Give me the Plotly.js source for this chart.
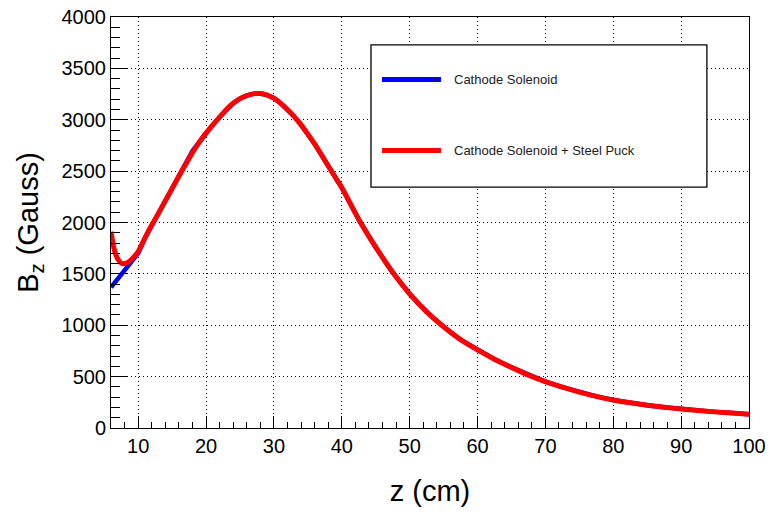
<!DOCTYPE html>
<html>
<head>
<meta charset="utf-8">
<script src="https://cdn.plot.ly/plotly-3.0.1.min.js"></script>
<style>
  html, body { margin: 0; padding: 0; background: #fff; }
  #chart { width: 769px; height: 518px; }
</style>
</head>
<body>
<div id="chart"></div>
<script>
// z positions (cm)
var zRed = [6, 6.5, 7, 7.5, 8, 8.5, 9, 9.5, 10, 11, 12, 13, 14, 15, 16, 17, 18, 19, 20,
            21, 22, 23, 24, 25, 26, 27, 28, 29, 30, 31, 32, 33, 34, 35, 36, 37, 38, 39, 40,
            42.5, 45, 47.5, 50, 52.5, 55, 57.5, 60, 62.5, 65, 67.5, 70, 72.5, 75, 77.5, 80,
            82.5, 85, 87.5, 90, 92.5, 95, 97.5, 100];
// Cathode Solenoid + Steel Puck (Gauss)
var bzRed = [1910, 1730, 1645, 1605, 1600, 1612, 1640, 1675, 1716, 1850, 1975, 2090, 2210, 2330, 2450, 2565, 2680, 2780, 2870,
             2950, 3025, 3100, 3160, 3205, 3235, 3252, 3255, 3240, 3210, 3160, 3100, 3030, 2950, 2860, 2765, 2660, 2550, 2445, 2340,
             2030, 1760, 1515, 1305, 1130, 985, 860, 760, 670, 590, 515, 452, 398, 350, 308, 273,
             245, 222, 202, 185, 170, 157, 145, 133];

var zBlue = [6, 6.5, 7, 7.5, 8, 8.5, 9, 9.5, 10, 11, 12, 13, 14, 15, 16, 17, 18, 19, 20,
             21, 22, 23, 24, 25, 26, 27, 28, 29, 30, 31, 32, 33, 34, 35, 36, 37, 38, 39, 40,
             42.5, 45, 47.5, 50, 52.5, 55, 57.5, 60, 62.5, 65, 67.5, 70, 72.5, 75, 77.5, 80,
             82.5, 85, 87.5, 90, 92.5, 95, 97.5, 100];
// Cathode Solenoid (Gauss)
var bzBlue = [1370, 1410, 1450, 1490, 1530, 1570, 1612, 1655, 1700, 1845, 1975, 2090, 2210, 2330, 2452, 2578, 2695, 2782, 2870,
              2950, 3025, 3100, 3160, 3205, 3235, 3252, 3255, 3240, 3210, 3160, 3100, 3030, 2950, 2860, 2765, 2660, 2550, 2445, 2340,
              2030, 1760, 1515, 1305, 1130, 985, 860, 760, 670, 590, 515, 452, 398, 350, 308, 273,
              245, 222, 202, 185, 170, 157, 145, 133];

var seriesNames = ["Cathode Solenoid", "Cathode Solenoid + Steel Puck"];
var seriesColors = ["#0000ff", "#ff0000"];

var FONT = "Liberation Sans, Arial, Helvetica, sans-serif";

var traces = [
  { x: zBlue, y: bzBlue, type: "scatter", mode: "lines", name: seriesNames[0],
    line: { color: seriesColors[0], width: 4.5 }, showlegend: false, hoverinfo: "x+y" },
  { x: zRed, y: bzRed, type: "scatter", mode: "lines", name: seriesNames[1],
    line: { color: seriesColors[1], width: 5, shape: "spline", smoothing: 0.6 }, showlegend: false, hoverinfo: "x+y" }
];

// legend box geometry (paper coordinates)
var lg = { x0: 0.4075, x1: 0.934, y0: 0.586, y1: 0.932 };
var rowY = [0.848, 0.675];

var shapes = [
  { type: "rect", xref: "paper", yref: "paper", x0: lg.x0, x1: lg.x1, y0: lg.y0, y1: lg.y1,
    line: { color: "#000", width: 1.3 }, fillcolor: "#fff", layer: "above" }
];
var annotations = [];
for (var i = 0; i < seriesNames.length; i++) {
  shapes.push({ type: "line", xref: "paper", yref: "paper", x0: 0.4248, x1: 0.5172, y0: rowY[i], y1: rowY[i],
                line: { color: seriesColors[i], width: 5 }, layer: "above" });
  annotations.push({ xref: "paper", yref: "paper", x: 0.5345, y: rowY[i], xanchor: "left", yanchor: "middle",
                     text: seriesNames[i], showarrow: false, font: { family: FONT, size: 13, color: "#222" } });
}

var layout = {
  width: 769, height: 518,
  margin: { l: 111, r: 20, t: 17, b: 90 },
  paper_bgcolor: "#fff", plot_bgcolor: "#fff",
  font: { family: FONT, color: "#000" },
  showlegend: false,
  xaxis: {
    range: [6, 100], tick0: 0, dtick: 10,
    ticks: "inside", ticklen: 12, tickcolor: "#000", tickwidth: 1,
    minor: { tick0: 0, dtick: 2, ticks: "inside", ticklen: 6, tickcolor: "#000", tickwidth: 1, showgrid: false },
    showgrid: true, gridcolor: "#000", gridwidth: 1, griddash: "1px,3px",
    zeroline: false, showline: true, linecolor: "#000", linewidth: 1, mirror: true,
    tickfont: { family: FONT, size: 20, color: "#000" },
    title: { text: "z (cm)", font: { family: FONT, size: 29, color: "#000" }, standoff: 24 },
    automargin: false
  },
  yaxis: {
    range: [0, 4000], tick0: 0, dtick: 500,
    ticks: "inside", ticklen: 16, tickcolor: "#000", tickwidth: 1,
    minor: { tick0: 0, dtick: 100, ticks: "inside", ticklen: 9, tickcolor: "#000", tickwidth: 1, showgrid: false },
    showgrid: true, gridcolor: "#000", gridwidth: 1, griddash: "1px,3px",
    zeroline: false, showline: true, linecolor: "#000", linewidth: 1, mirror: true,
    tickfont: { family: FONT, size: 20, color: "#000" },
    title: { text: "B<sub>z</sub> (Gauss)", font: { family: FONT, size: 29, color: "#000" }, standoff: 14 },
    automargin: false
  },
  shapes: shapes,
  annotations: annotations
};

Plotly.newPlot("chart", traces, layout, { displayModeBar: false, staticPlot: true });
</script>
</body>
</html>
